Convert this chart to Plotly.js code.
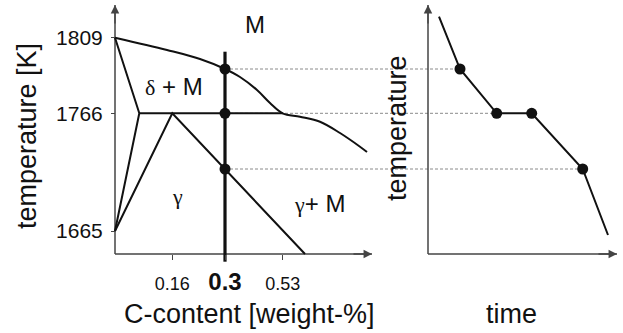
<!DOCTYPE html>
<html>
<head>
<meta charset="utf-8">
<script src="https://cdn.plot.ly/plotly-3.0.1.min.js"></script>
<style>
  html, body { margin: 0; padding: 0; background: #fff; }
  #chart { width: 623px; height: 333px; }
</style>
</head>
<body>
<div id="chart"></div>
<script>
// Schematic Fe–C peritectic corner (left) and the cooling curve of a 0.3 % C steel (right).
// Both panels share one vertical temperature scale, drawn in schematic diagram units.

// ---- axis ticks (schematic positions and their labels) ----
const tempTickAt   = [23, 140.7, 216.3];
const tempTickText = ['1665', '1766', '1809'];
const compTickAt   = [57.3, 110, 167.7];
const compTickText = ['0.16', '<span style="font-size:24px;font-weight:bold">0.3</span>', '0.53'];

// ---- phase boundaries ----
const liquidusX = [0, 52, 85, 110, 125, 142, 155, 167.7, 185, 205, 225, 245, 252];
const liquidusY = [216.3, 204, 195, 185, 177, 164, 151, 140.7, 137.3, 132.3, 121, 107.3, 102];
const deltaX = [0, 24.3, 0];
const deltaY = [216.3, 140.7, 23];
const peritecticX = [24.3, 167.7];
const peritecticY = [140.7, 140.7];
const gammaX = [0, 57.3, 190];
const gammaY = [23, 140.7, 0];

// ---- the 0.3 % C alloy and its transformation temperatures ----
const alloyComp = 110;
const alloyLineY = [202.3, -7.7];
const alloyPointY = [185, 140.7, 85];

// ---- cooling curve (time measured from the right panel's origin) ----
const coolTime = [11, 32, 68.7, 103.7, 154.7, 180];
const coolTemp = [237.3, 185, 140.7, 140.7, 85, 19];
const coolPointIdx = [1, 2, 3, 4];
// arrest points that each alloy point is projected onto
const projectIdx = [1, 2, 4];

// ---- frame ----
const timeOrigin = 313;
const axisTop = 249;
const compAxisEnd = 257;
const timeAxisEnd = 189;

const SANS = 'Liberation Sans, Arial, Helvetica, sans-serif';
const SERIF = 'Liberation Serif, Times New Roman, serif';
const INK = '#111';
const AXIS = '#444';

const traces = [];

// dashed projections from the phase diagram to the cooling curve
alloyPointY.forEach((t, i) => {
  traces.push({
    x: [alloyComp, timeOrigin + coolTime[projectIdx[i]]],
    y: [t, coolTemp[projectIdx[i]]],
    mode: 'lines', line: { color: '#8a8a8a', width: 1, dash: '3px,2px' },
    hoverinfo: 'skip'
  });
});

// axis lines of both panels
[[[0, 0], [0, axisTop]], [[0, compAxisEnd], [0, 0]],
 [[timeOrigin, timeOrigin], [0, axisTop]], [[timeOrigin, timeOrigin + timeAxisEnd], [0, 0]]]
  .forEach(([xs, ys]) => traces.push({
    x: xs, y: ys, mode: 'lines', line: { color: AXIS, width: 1.5 }, hoverinfo: 'skip'
  }));

const boundary = (x, y, shape) => ({
  x, y, mode: 'lines', hoverinfo: 'skip',
  line: { color: INK, width: 2, shape: shape || 'linear', smoothing: 1 }
});
traces.push(boundary(liquidusX, liquidusY, 'spline'));
traces.push(boundary(deltaX, deltaY));
traces.push(boundary(peritecticX, peritecticY));
traces.push(boundary(gammaX, gammaY));

// alloy composition line
traces.push({
  x: [alloyComp, alloyComp], y: alloyLineY, mode: 'lines',
  line: { color: INK, width: 3.2 }, hoverinfo: 'skip'
});
traces.push({
  x: alloyPointY.map(() => alloyComp), y: alloyPointY, mode: 'markers',
  marker: { color: INK, size: 11 }, hoverinfo: 'skip'
});

// cooling curve
traces.push({
  x: coolTime.map(t => timeOrigin + t), y: coolTemp, mode: 'lines',
  line: { color: INK, width: 2 }, hoverinfo: 'skip'
});
traces.push({
  x: coolPointIdx.map(i => timeOrigin + coolTime[i]), y: coolPointIdx.map(i => coolTemp[i]),
  mode: 'markers', marker: { color: INK, size: 11 }, hoverinfo: 'skip'
});

// arrow heads on the axes
const head = (x, y, ax, ay) => ({
  x, y, ax, ay, xref: 'x', yref: 'y', axref: 'x', ayref: 'y', text: '',
  showarrow: true, arrowhead: 2, arrowsize: 1.3, arrowwidth: 1.3, arrowcolor: AXIS
});

const label = (text, x, y, size, extra) => Object.assign({
  text, x, y, xref: 'x', yref: 'y', showarrow: false,
  xanchor: 'center', yanchor: 'middle', font: { family: SANS, size, color: INK }
}, extra || {});

const greek = s => '<span style="font-family:Liberation Serif;font-size:22px">' + s + '</span>';

const annotations = [
  head(0, axisTop, 0, axisTop - 20),
  head(compAxisEnd, 0, compAxisEnd - 20, 0),
  head(timeOrigin, axisTop, timeOrigin, axisTop - 20),
  head(timeOrigin + timeAxisEnd, 0, timeOrigin + timeAxisEnd - 20, 0),
  label('M', 140, 230, 24),
  label(greek('δ') + ' + M', 59, 168, 24),
  label(greek('γ'), 62, 58, 22),
  label(greek('γ') + '+ M', 204, 51, 24),
  label('temperature [K]', -88, 118, 27, { textangle: -90 }),
  label('C-content [weight-%]', 134, -60, 27),
  label('temperature', 282, 126, 27, { textangle: -90 }),
  label('time', 396, -60, 27)
];

const layout = {
  width: 623, height: 333,
  margin: { l: 0, r: 0, t: 0, b: 0 },
  paper_bgcolor: '#fff', plot_bgcolor: '#fff',
  showlegend: false,
  font: { family: SANS, color: INK },
  xaxis: {
    range: [-115, 508], anchor: 'free', position: 79 / 333,
    showline: false, zeroline: false, showgrid: false,
    tickmode: 'array', tickvals: compTickAt, ticktext: compTickText,
    ticks: 'outside', ticklen: 5, tickwidth: 1, tickcolor: AXIS,
    tickfont: { family: SANS, size: 18, color: INK }, ticklabelstandoff: 8
  },
  yaxis: {
    range: [-79, 254], anchor: 'free', position: 115 / 623,
    showline: false, zeroline: false, showgrid: false,
    tickmode: 'array', tickvals: tempTickAt, ticktext: tempTickText,
    ticks: 'outside', ticklen: 4, tickwidth: 1, tickcolor: AXIS,
    tickfont: { family: SANS, size: 21, color: INK }, ticklabelstandoff: 4
  },
  annotations
};

Plotly.newPlot('chart', traces, layout, { staticPlot: true, displayModeBar: false });
</script>
</body>
</html>
